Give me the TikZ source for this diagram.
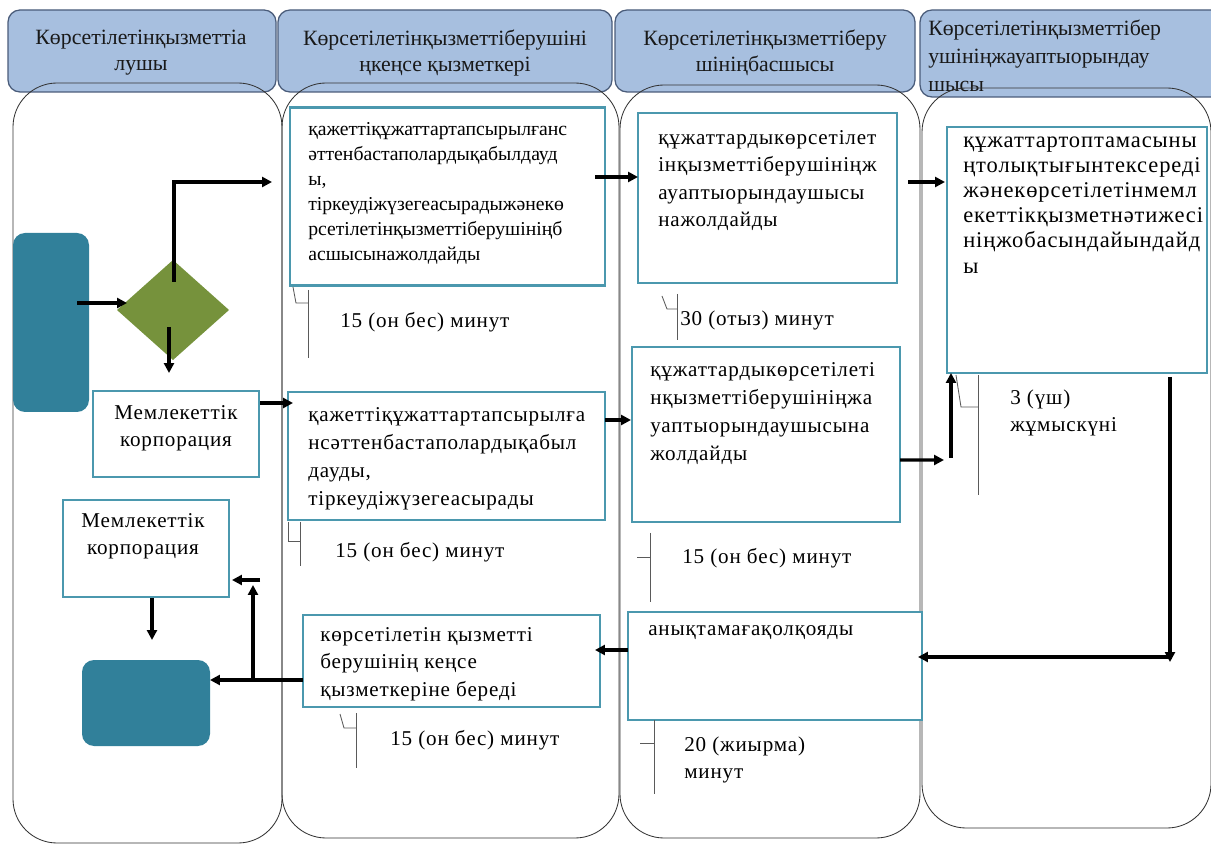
\documentclass[tikz,border=0pt]{standalone}
\usepackage{fontspec}
\setmainfont{Liberation Serif}
\newfontfamily\spaced[LetterSpace=4]{Liberation Serif}
\usetikzlibrary{shapes.geometric,arrows.meta}
\newlength\px
\setlength\px{0.025cm}
\definecolor{headfill}{HTML}{A7BFDF}
\definecolor{headedge}{HTML}{4A5C7A}
\definecolor{laneedge}{HTML}{333333}
\definecolor{boxedge}{HTML}{4B98AE}
\definecolor{termfill}{HTML}{31809A}
\definecolor{choicefill}{HTML}{76923C}
\definecolor{tickgray}{HTML}{5A5A5A}
\begin{document}
\begin{tikzpicture}[x=0.025cm,y=-0.025cm,
    lanehead/.style={draw=headedge,fill=headfill,line width=0.9pt,rounded corners=0.3cm},
    lane/.style={draw=laneedge,line width=0.6pt,rounded corners=1.1cm},
    stepbox/.style={draw=boxedge,line width=1.6pt,fill=white,inner sep=0,outer sep=0},
    termbox/.style={fill=termfill,rounded corners=0.3cm,inner sep=0,outer sep=0},
    choice/.style={diamond,fill=choicefill,inner sep=0,outer sep=0},
    txt/.style={anchor=north west,align=left,inner sep=0,text=black,font=\spaced\fontsize{15pt}{20pt}\selectfont},
    timetxt/.style={anchor=west,align=left,inner sep=0,text=black,font=\spaced\fontsize{15pt}{19pt}\selectfont},
    headtxt/.style={align=center,inner sep=0,text=black!90,font=\fontsize{15.5pt}{18.5pt}\selectfont},
    flow/.style={-{Triangle[length=7pt,width=7pt]},line width=2.2pt},
    tick/.style={draw=tickgray,line width=0.6pt}]
    \useasboundingbox (0,0) rectangle (1211,845);
    \fill[white] (0,0) rectangle (1211,845);
    % lane headers
    \draw[lanehead] (8,10) rectangle (276,92);
    \draw[lanehead] (278,10) rectangle (612,92);
    \draw[lanehead] (615,10) rectangle (915,92);
    \draw[lanehead] (920,10) rectangle (1225,97);
    \node[headtxt] (h1) at (141,53) {Көрсетілетінқызметтіа\\лушы};
    \node[headtxt] (h2) at (445,53) {Көрсетілетінқызметтіберушіні\\ңкеңсе қызметкері};
    \node[headtxt] (h3) at (765,53) {Көрсетілетінқызметтіберу\\шініңбасшысы};
    \node[headtxt,anchor=north west,align=left,font=\fontsize{15.5pt}{19.6pt}\selectfont] (h4) at (928,20) {Көрсетілетінқызметтібер\\ушініңжауаптыорындау\\шысы};
    % lanes
    \draw[lane] (13,83) rectangle (282,843);
    \draw[lane] (282,83) rectangle (619,838);
    \draw[lane] (620,85) rectangle (920,838);
    \draw[lane] (922,88) rectangle (1211,828);
    % start, choice and end
    \node[termbox,minimum width=76*\px,minimum height=179*\px] (start) at (51,322.5) {};
    \node[choice,minimum width=112*\px,minimum height=100*\px] (dia) at (173,310) {};
    \node[termbox,minimum width=128*\px,minimum height=86*\px] (fin) at (146,703) {};
    % steps
    \node[stepbox,minimum width=315*\px,minimum height=178*\px] (b1) at (447.5,196.5) {};
    \node[stepbox,minimum width=259*\px,minimum height=170*\px] (b2) at (767.5,198) {};
    \node[stepbox,minimum width=260*\px,minimum height=246*\px] (b3) at (1077,250) {};
    \node[stepbox,minimum width=317*\px,minimum height=128*\px] (b4) at (446.5,456) {};
    \node[stepbox,minimum width=268*\px,minimum height=175*\px] (b5) at (766,434.5) {};
    \node[stepbox,minimum width=294*\px,minimum height=108*\px] (b6) at (775,666) {};
    \node[stepbox,minimum width=297*\px,minimum height=92*\px] (b7) at (451.5,661) {};
    \node[stepbox,minimum width=166*\px,minimum height=86*\px] (m1) at (176,434) {};
    \node[stepbox,minimum width=166*\px,minimum height=97*\px] (m2) at (146,548.5) {};
    % step texts
    \node[txt,font=\fontsize{14pt}{17.8pt}\selectfont] (b1txt) at (308,122) {қажеттіқұжаттартапсырылғанс\\әттенбастаполардықабылдауд\\ы,\\тіркеудіжүзегеасырадыжәнекө\\рсетілетінқызметтіберушініңб\\асшысынажолдайды};
    \node[txt,font=\spaced\fontsize{15pt}{19.6pt}\selectfont] (b2txt) at (658,130) {құжаттардыкөрсетілет\\інқызметтіберушініңж\\ауаптыорындаушысы\\нажолдайды};
    \node[txt,font=\spaced\fontsize{16pt}{17.8pt}\selectfont] (b3txt) at (963,137) {құжаттартоптамасыны\\ңтолықтығынтексереді\\жәнекөрсетілетінмемл\\екеттікқызметнәтижесі\\ніңжобасындайындайд\\ы};
    \node[txt] (b4txt) at (308,407) {қажеттіқұжаттартапсырылға\\нсәттенбастаполардықабыл\\дауды,\\тіркеудіжүзегеасырады};
    \node[txt] (b5txt) at (650,362) {құжаттардыкөрсетілеті\\нқызметтіберушініңжа\\уаптыорындаушысына\\жолдайды};
    \node[txt] (b6txt) at (648,625) {анықтамағақолқояды};
    \node[txt,font=\spaced\fontsize{15pt}{19.6pt}\selectfont] (b7txt) at (320,627) {көрсетілетін қызметті\\берушінің кеңсе\\қызметкеріне береді};
    \node[txt,anchor=center,align=center,font=\spaced\fontsize{15pt}{19.2pt}\selectfont] (m1txt) at (176,428) {Мемлекеттік\\корпорация};
    \node[txt,anchor=center,align=center,font=\spaced\fontsize{15pt}{19.2pt}\selectfont] (m2txt) at (143,536) {Мемлекеттік\\корпорация};
    % time labels
    \node[timetxt] (t1) at (340,322) {15 (он бес) минут};
    \node[timetxt] (t2) at (680,320) {30 (отыз) минут};
    \node[timetxt] (t3) at (335,552) {15 (он бес) минут};
    \node[timetxt] (t4) at (682,558) {15 (он бес) минут};
    \node[txt,font=\spaced\fontsize{15pt}{19.2pt}\selectfont] (t5) at (1010,390) {3 (үш)\\жұмыскүні};
    \node[timetxt] (t6) at (390,740) {15 (он бес) минут};
    \node[txt,font=\spaced\fontsize{15pt}{19.2pt}\selectfont] (t7) at (684,737) {20 (жиырма)\\минут};
    % time ticks
    \draw[tick] (293,287) -- (296,303) -- (308,303);
    \draw[tick] (308,290) -- (308,358);
    \draw[tick] (662,296) -- (667,309) -- (677,309);
    \draw[tick] (677,294) -- (677,340);
    \draw[tick] (288,522) -- (288,541) -- (300,541);
    \draw[tick] (300,522) -- (300,566);
    \draw[tick] (637,557) -- (650,557);
    \draw[tick] (650,533) -- (650,602);
    \draw[tick] (956,375) -- (961,407) -- (978,407);
    \draw[tick] (978,375) -- (978,495);
    \draw[tick] (340,714) -- (344,728) -- (356,728);
    \draw[tick] (356,713) -- (356,768);
    \draw[tick] (640,743) -- (654,743);
    \draw[tick] (654,720) -- (654,794);
    % connectors
    \draw[flow] ([shift={(-12,-19.5)}]start.east) -- ([shift={(10,-7)}]dia.west);
    \draw[flow] ([shift={(1,22)}]dia.north) |- ([shift={(-18,-14.5)}]b1.west);
    \draw[flow] ([shift={(-4,17)}]dia.center) -- ([shift={(-7,-18)}]m1.north);
    \draw[flow] ([shift={(1,-31)}]m1.east) -- ([shift={(5,-53)}]b4.west);
    \draw[flow] ([shift={(-10,-19.5)}]b1.east) -- ([shift={(0,-21)}]b2.west);
    \draw[flow] ([shift={(11,-16)}]b2.east) -- ([shift={(-2,-68)}]b3.west);
    \draw[flow] ([shift={(0,-36)}]b4.east) -- ([shift={(-1,-14.5)}]b5.west);
    \draw[flow] ([shift={(0,25.5)}]b5.east) -- ([shift={(-3,87)}]b3.south west);
    \draw[flow] ([shift={(4,85)}]b3.south west) -- ([shift={(4,0)}]b3.south west);
    \draw[flow] ([shift={(93,4)}]b3.south) -- ([shift={(93,289)}]b3.south);
    \draw[flow] ([shift={(95,284)}]b3.south) -- ([shift={(-4,-9)}]b6.east);
    \draw[flow] ([shift={(0,-16)}]b6.west) -- ([shift={(-5,-11)}]b7.east);
    \draw[flow] ([shift={(0,19)}]b7.west) -- ([shift={(0,-23)}]fin.east);
    \draw[flow] ([shift={(-50,19)}]b7.west) -- ([shift={(24,36.5)}]m2.east);
    \draw[flow] ([shift={(31,31.5)}]m2.east) -- ([shift={(3,31.5)}]m2.east);
    \draw[flow] ([shift={(6,1)}]m2.south) -- ([shift={(6,-20)}]fin.north);
\end{tikzpicture}
\end{document}
